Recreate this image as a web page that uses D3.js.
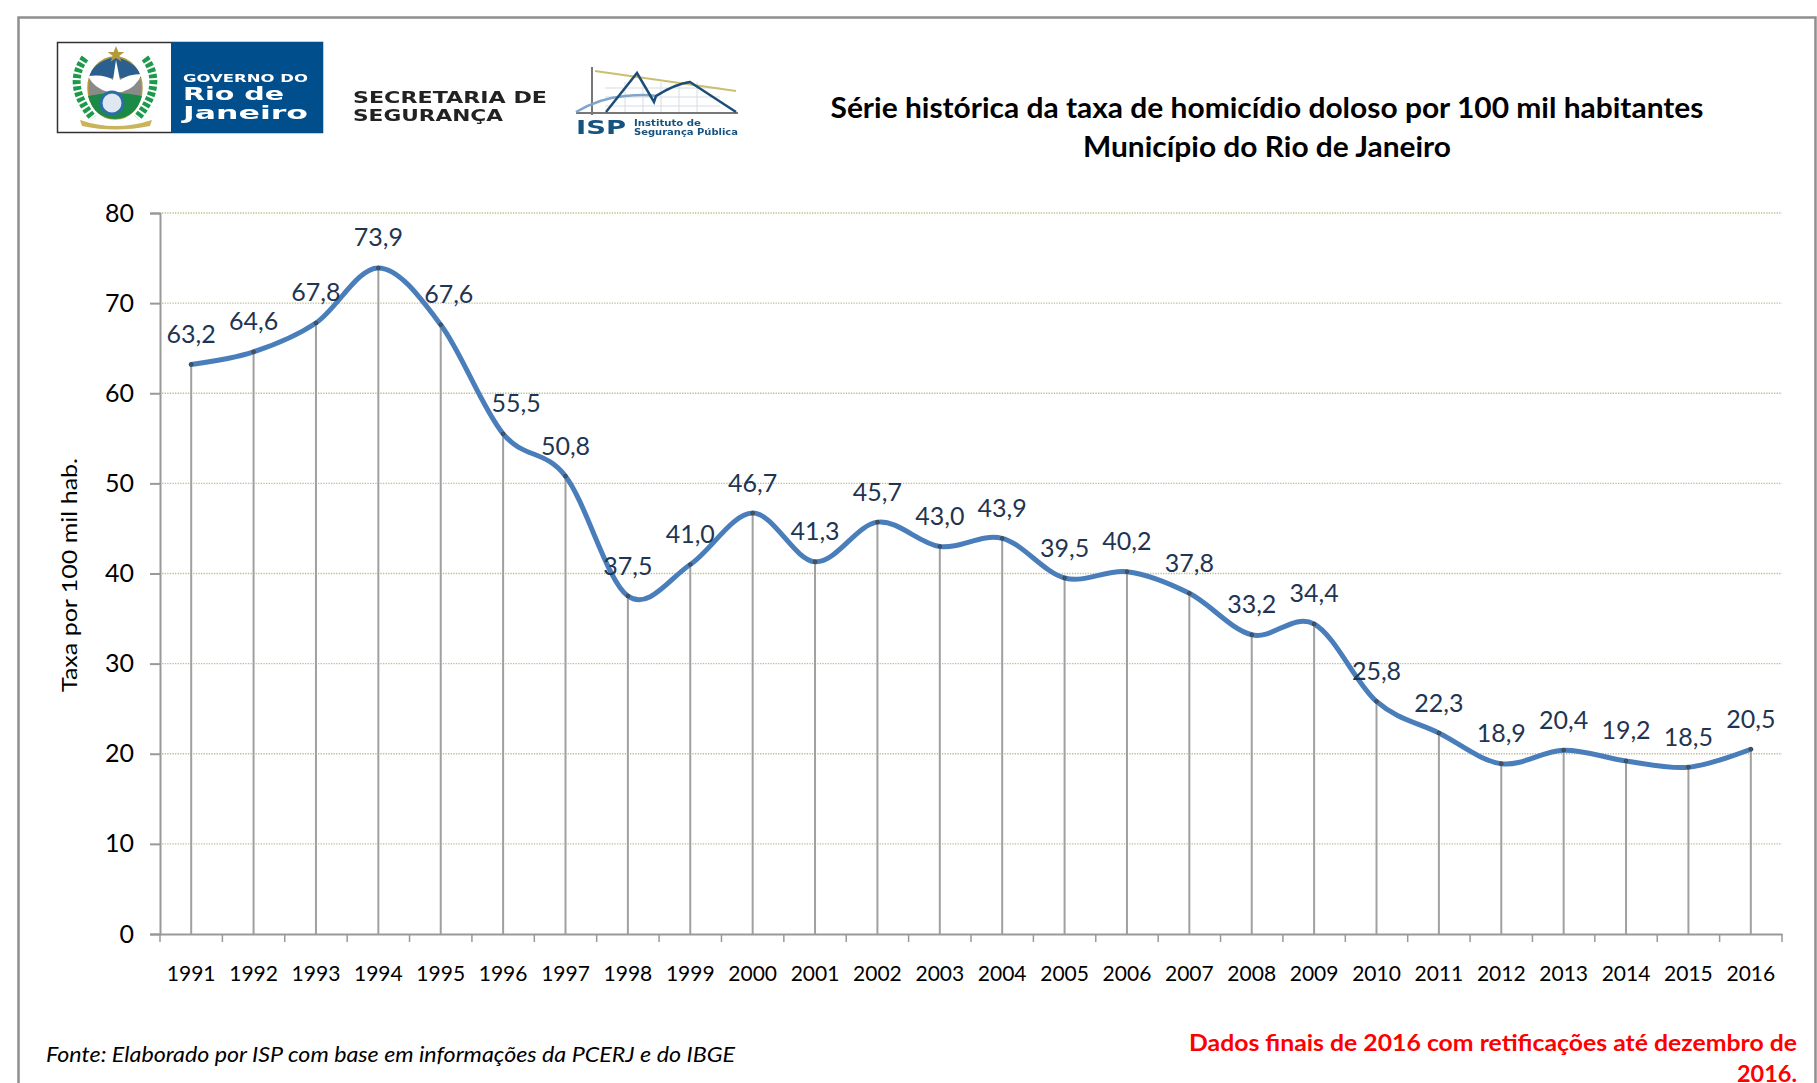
<!DOCTYPE html>
<html lang="pt"><head><meta charset="utf-8">
<script src="https://cdn.jsdelivr.net/npm/d3@7/dist/d3.min.js"></script>
<style>html,body{margin:0;padding:0;background:#fff;overflow:hidden}svg{display:block}text{font-family:Lato,"Open Sans",sans-serif}</style>
</head><body><svg id="c" width="1817" height="1083"><defs><filter id="soft"><feGaussianBlur stdDeviation="0.45"/></filter></defs></svg>
<script>
const years=[1991,1992,1993,1994,1995,1996,1997,1998,1999,2000,2001,2002,2003,2004,2005,2006,2007,2008,2009,2010,2011,2012,2013,2014,2015,2016];
const rates=[63.2,64.6,67.8,73.9,67.6,55.5,50.8,37.5,41.0,46.7,41.3,45.7,43.0,43.9,39.5,40.2,37.8,33.2,34.4,25.8,22.3,18.9,20.4,19.2,18.5,20.5];
const yTicks=[0,10,20,30,40,50,60,70,80];
const titleLines=["Série histórica da taxa de homicídio doloso por 100 mil habitantes","Município do Rio de Janeiro"];
const yTitle="Taxa por 100 mil hab.";
const source="Fonte: Elaborado por ISP com base em informações da PCERJ e do IBGE";
const noteLines=["Dados finais de 2016 com retificações até dezembro de","2016."];

const svg=d3.select("#c");
const m={l:160,r:1782,t:213,b:934};
const labelShift=new Map([[1995,8],[1996,13]]);
const x=d3.scaleBand().domain(years).range([m.l,m.r]);
const y=d3.scaleLinear().domain([0,80]).range([m.b,m.t]);
const cx=d=>x(d)+x.bandwidth()/2;
const fmt=v=>v.toFixed(1).replace(".",",");
const T=(g,s,px,py,o={})=>{const t=g.append("text").attr("x",px).attr("y",py).text(s)
  .attr("font-size",o.size).attr("fill",o.fill||"#000").attr("text-anchor",o.anchor||"start");
  if(o.weight)t.attr("font-weight",o.weight);if(o.style)t.attr("font-style",o.style);
  if(o.font)t.style("font-family",o.font);
  if(o.len)t.attr("textLength",o.len).attr("lengthAdjust","spacingAndGlyphs");return t;};

// frame
svg.append("path").attr("d","M18.5 1083V17.5H1815.5V1083").attr("fill","none").attr("stroke","#8f8f8f").attr("stroke-width",2.5);

// government logo
const lg=svg.append("g").attr("filter","url(#soft)");
lg.append("rect").attr("x",57.5).attr("y",42.5).attr("width",265).attr("height",90).attr("fill","#fff").attr("stroke","#333").attr("stroke-width",1.5);
lg.append("rect").attr("x",171).attr("y",42).attr("width",152).attr("height",91).attr("fill","#00508c");
T(lg,"GOVERNO DO",183,82,{size:11,fill:"#fff",weight:700,font:"'DejaVu Sans'",len:125});
T(lg,"Rio de",183,100,{size:18,fill:"#fff",weight:700,font:"'DejaVu Sans'",len:101});
T(lg,"Janeiro",183,119,{size:18,fill:"#fff",weight:700,font:"'DejaVu Sans'",len:125});
[-1,1].forEach(s=>{lg.append("path").attr("d",`M${115+s*30} 58 Q${115+s*50} 85 ${115+s*22} 118`).attr("fill","none").attr("stroke","#1f9a4b").attr("stroke-width",8).attr("stroke-dasharray","4 2");});
lg.append("ellipse").attr("cx",115).attr("cy",88).attr("rx",27).attr("ry",31).attr("fill","#8a8a8a").attr("stroke","#b59a3a").attr("stroke-width",1.5);
lg.append("path").attr("d","M89 78 Q92 62 115 57 Q138 62 141 78Z").attr("fill","#2b5f8f");
lg.append("path").attr("d","M88 96 Q115 90 142 96 Q136 118 115 119 Q94 118 88 96Z").attr("fill","#1d8a46");
lg.append("path").attr("d","M88 76 Q105 74 113 80 L116 60 L120 80 Q128 74 142 74 Q136 88 122 92 L108 92 Q94 88 88 76Z").attr("fill","#fff");
lg.append("circle").attr("cx",112).attr("cy",103).attr("r",11).attr("fill","#dfe8f0").attr("stroke","#2b6ea6").attr("stroke-width",3);
lg.append("path").attr("d","M116 46l2.4 6h6l-5 3.8 2 6-5.4-3.7-5.4 3.7 2-6-5-3.8h6z").attr("fill","#b59a3a");
lg.append("path").attr("d","M80 120 Q115 132 152 120 L150 126 Q115 133 82 126Z").attr("fill","#c9b45c");

// secretaria
const sg=svg.append("g").attr("filter","url(#soft)");
T(sg,"SECRETARIA DE",353,103,{size:15.5,weight:700,fill:"#222",font:"'DejaVu Sans'",len:194});
T(sg,"SEGURANÇA",353,121,{size:15.5,weight:700,fill:"#222",font:"'DejaVu Sans'",len:150});

// ISP logo
const il=svg.append("g").attr("fill","none").attr("filter","url(#soft)");
[0,1,2,3,4].forEach(i=>il.append("path").attr("d",`M${625+i*18} 82V112`).attr("stroke","#d5dce6"));
[0,1,2].forEach(i=>il.append("path").attr("d",`M605 ${88+i*9}H720`).attr("stroke","#d5dce6"));
il.append("path").attr("d","M592 67V115M576 113H738").attr("stroke","#777").attr("stroke-width",2);
il.append("path").attr("d","M595 71L736 91").attr("stroke","#c8c070").attr("stroke-width",2);
il.append("path").attr("d","M576 112Q600 98 625 96Q645 94 656 96Q675 84 690 82").attr("stroke","#7fa6c9").attr("stroke-width",2.5);
il.append("path").attr("d","M606 112L637 73L654 102L656 96Q675 84 690 82L736 112").attr("stroke","#1f4e79").attr("stroke-width",2.5);
T(il,"ISP",576,134,{size:20,weight:700,fill:"#16527f",font:"'DejaVu Sans'",len:50});
T(il,"Instituto de",634,126,{size:8.5,weight:700,fill:"#16527f",font:"'DejaVu Sans'",len:67});
T(il,"Segurança Pública",634,135,{size:8.5,weight:700,fill:"#16527f",font:"'DejaVu Sans'",len:104});

// titles
titleLines.forEach((s,i)=>T(svg,s,1267,118+i*39,{size:28,weight:700,anchor:"middle",len:i?368:873}));

// grid
svg.append("g").selectAll("line").data(yTicks.filter(d=>d>0)).join("line")
  .attr("x1",m.l+2).attr("x2",m.r).attr("y1",d=>y(d)).attr("y2",d=>y(d))
  .attr("stroke","#bdbd8e").attr("stroke-width",1.3).attr("stroke-dasharray","1.3 1.3");

// drop lines
svg.append("g").selectAll("line").data(years).join("line")
  .attr("x1",cx).attr("x2",cx).attr("y1",(d,i)=>y(rates[i])).attr("y2",m.b)
  .attr("stroke","#a0a0a0").attr("stroke-width",2);

// axes
const ya=svg.append("g").attr("transform",`translate(${m.l},0)`)
  .call(d3.axisLeft(y).tickValues(yTicks).tickSize(10).tickPadding(16).tickFormat(d3.format("d")));
ya.selectAll("text").attr("font-size",25).attr("fill","#000").style("font-family","Lato");
const xa=svg.append("g").attr("transform",`translate(0,${m.b})`)
  .call(d3.axisBottom(x).tickSize(0).tickPadding(32));
xa.selectAll("text").attr("font-size",21).attr("fill","#000").style("font-family","Lato");
svg.append("g").selectAll("line").data(years.concat(["end"])).join("line")
  .attr("x1",d=>d==="end"?m.r:x(d)).attr("x2",d=>d==="end"?m.r:x(d)).attr("y1",m.b).attr("y2",m.b+8)
  .attr("stroke","#999").attr("stroke-width",1.5);
[ya,xa].forEach(a=>a.selectAll("path.domain,line").attr("stroke","#999").attr("stroke-width",2));

// series
const pts=years.map((d,i)=>[cx(d),y(rates[i])]);
svg.append("path").attr("d",d3.line().curve(d3.curveCatmullRom.alpha(0))(pts))
  .attr("fill","none").attr("stroke","#4a7ebb").attr("stroke-width",5).attr("stroke-linecap","round");
svg.append("g").selectAll("circle").data(pts).join("circle")
  .attr("cx",d=>d[0]).attr("cy",d=>d[1]).attr("r",1.8).attr("fill","#555").attr("stroke","#2f3f4f").attr("stroke-width",0.8);
svg.append("g").selectAll("text").data(rates).join("text")
  .attr("x",(d,i)=>cx(years[i])+(labelShift.get(years[i])||0)).attr("y",d=>y(d)-21.5).attr("text-anchor","middle")
  .attr("font-size",25).attr("fill","#1f3552").text(fmt);

// side texts
T(svg,yTitle,0,0,{size:22,anchor:"middle",len:234}).attr("transform","translate(77,575) rotate(-90)");
T(svg,source,46,1062,{size:22,style:"italic",len:689});
noteLines.forEach((s,i)=>T(svg,s,1797,1051+i*31,{size:23.5,weight:700,fill:"#ff0000",anchor:"end",len:i?60:608}));
</script></body></html>
